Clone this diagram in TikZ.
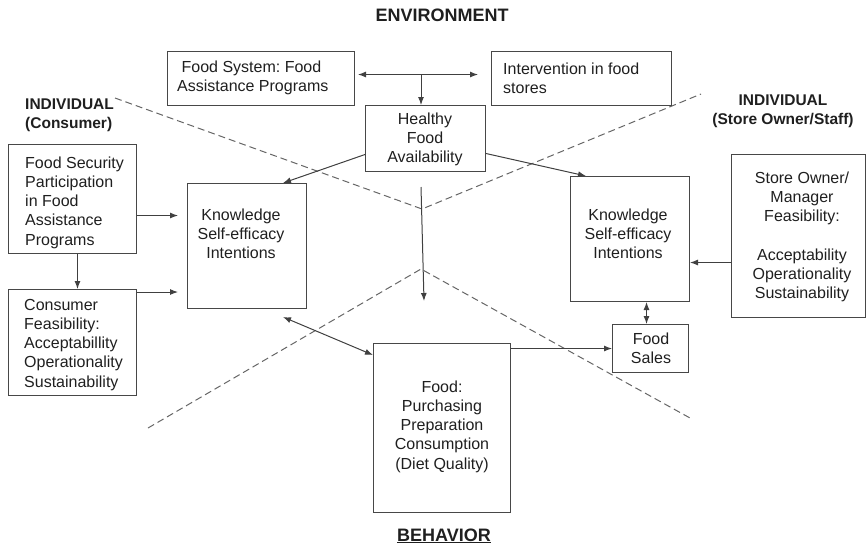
\documentclass[tikz,border=0pt]{standalone}
\usepackage{fontspec}
\setmainfont{Liberation Sans}
\frenchspacing
\usetikzlibrary{arrows.meta,calc}
\begin{document}
\begin{tikzpicture}[x=1pt,y=-1pt,
 box/.style={draw=black!72, line width=1pt, inner sep=0pt, anchor=north west},
 txt/.style={inner sep=0pt, font=\fontsize{16}{19.3}\selectfont, text=black!88},
 hdr/.style={inner sep=0pt, font=\fontsize{15.5}{19.5}\selectfont\bfseries, text=black!88},
 ttl/.style={inner sep=0pt, font=\fontsize{18}{21}\selectfont\bfseries, text=black!88},
 arr/.style={draw=black!75, line width=1pt, -{Latex[length=8pt,width=6pt]}},
 darr/.style={draw=black!75, line width=1pt, {Latex[length=8pt,width=6pt]}-{Latex[length=8pt,width=6pt]}},
 sep/.style={draw=black!60, line width=1pt, dash pattern=on 7pt off 4pt}]
\useasboundingbox (0,0) rectangle (866,547);

% separators
\draw[sep] (115,98) -- (422,209) -- (701,94);
\draw[sep] (148,428) -- (421,269) -- (690,418);

% headings
\node[ttl, anchor=base] (env) at (442,21) {ENVIRONMENT};
\node[ttl, anchor=base] (beh) at (444,541) {\underline{BEHAVIOR}};
\node[hdr, anchor=base west, align=left] (indc) at (25,128.5) {INDIVIDUAL\\(Consumer)};
\node[hdr, anchor=base, align=center] (inds) at (783,124.5) {INDIVIDUAL\\(Store Owner/Staff)};

% boxes
\node[box, minimum width=187, minimum height=54] (fs) at (167,51) {};
\node[box, minimum width=180, minimum height=54] (iv) at (491,51) {};
\node[box, minimum width=120, minimum height=66] (hf) at (365,105) {};
\node[box, minimum width=119, minimum height=125] (lk) at (187,183) {};
\node[box, minimum width=119, minimum height=125] (rk) at (570,176) {};
\node[box, minimum width=134, minimum height=163] (so) at (731,154) {};
\node[box, minimum width=76, minimum height=48] (fsl) at (612,324) {};
\node[box, minimum width=137, minimum height=169] (fb) at (373,343) {};
\node[box, minimum width=128, minimum height=109] (fsec) at (8,144) {};
\node[box, minimum width=128, minimum height=106] (cf) at (8,289) {};

% texts
\node[txt, anchor=base west, align=left] (fst) at (177,91.3) {\ Food System: Food\\Assistance Programs};
\node[txt, anchor=base west, align=left] (ivt) at (503,93.3) {Intervention in food\\stores};
\node[txt, anchor=base, align=center] (hft) at (425,162.6) {Healthy\\Food\\Availability};
\node[txt, anchor=base, align=center] (lkt) at (241,258.6) {Knowledge\\Self-efficacy\\Intentions};
\node[txt, anchor=base, align=center] (rkt) at (628,258.6) {Knowledge\\Self-efficacy\\Intentions};
\node[txt, anchor=base, align=center] (sot) at (802,298.8) {Store Owner/\\Manager\\Feasibility:\\[19.3pt]Acceptability\\Operationality\\Sustainability};
\node[txt, anchor=base, align=center] (fslt) at (651,363.3) {Food\\Sales};
\node[txt, anchor=base, align=center] (fbt) at (442,469.2) {Food:\\Purchasing\\Preparation\\Consumption\\(Diet Quality)};
\node[txt, anchor=base west, align=left] (fsect) at (25,245.2) {Food Security\\Participation\\in Food\\Assistance\\Programs};
\node[txt, anchor=base west, align=left] (cft) at (24,387.2) {Consumer\\Feasibility:\\Acceptabillity\\Operationality\\Sustainability};

% connectors
\coordinate (m) at (421,74);
\draw[darr, shorten <=3pt, shorten >=13pt] ([yshift=4pt]fs.east) -- ([yshift=4pt]iv.west);
\draw[arr] (m) -- (m |- hf.north);
\draw[arr] ([yshift=-16pt]hf.west) -- ([xshift=-24pt]lk.north east);
\draw[arr] ([yshift=-15pt]hf.east) -- ([xshift=16pt]rk.north west);
\coordinate (vt) at (421,187);
\coordinate (vb) at (424,301);
\draw[arr] (vt) -- (vb);
\draw[darr] ([xshift=-24pt,yshift=-8pt]lk.south east) -- ([yshift=-12pt]fb.north west);
\draw[arr] (fb.north east |- fsl.west) -- (fsl.west);
\draw[darr] ([xshift=-4pt]fsl.north) -- ([xshift=-4pt]fsl.north |- rk.south);
\path ([yshift=-26.5pt]so.west) coordinate (soa);
\draw[arr] (soa) -- (soa -| rk.east);
\path ([yshift=-16.5pt]fsec.east) coordinate (fa);
\draw[arr, shorten >=9pt] (fa) -- (fa -| lk.west);
\path ([yshift=-3pt]cf.north east) coordinate (ca);
\draw[arr, shorten >=9pt] (ca) -- (ca -| lk.west);
\path ([xshift=5pt]fsec.south) coordinate (fd);
\draw[arr] (fd) -- (fd |- cf.north);
\end{tikzpicture}
\end{document}
